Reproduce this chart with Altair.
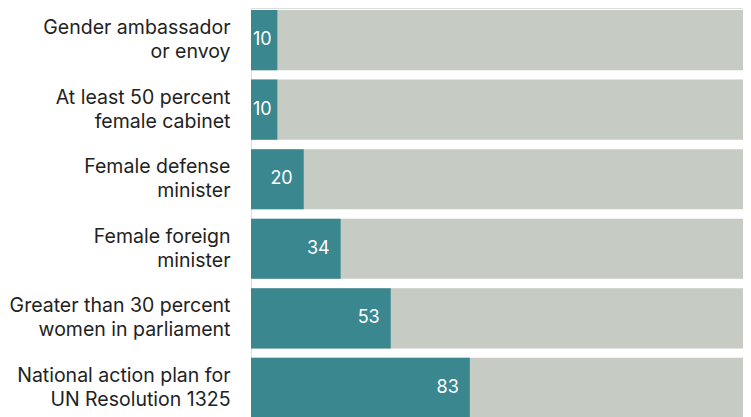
import altair as alt
import pandas as pd

categories = [
    "Gender ambassador|or envoy",
    "At least 50 percent|female cabinet",
    "Female defense|minister",
    "Female foreign|minister",
    "Greater than 30 percent|women in parliament",
    "National action plan for|UN Resolution 1325",
]
values = [10, 10, 20, 34, 53, 83]
total = 193

df = pd.DataFrame({"cat": categories, "v": values, "total": [total] * len(values)})

FONT = "Inter"
TEAL = "#3a878f"
GRAY = "#c6cbc4"

y = alt.Y(
    "cat:N",
    sort=categories,
    title=None,
    scale=alt.Scale(paddingInner=0.135, paddingOuter=0.03),
    axis=alt.Axis(
        labelExpr="split(datum.label, '|')",
        labelFontSize=19.5,
        labelFont=FONT,
        labelColor="#222222",
        labelLineHeight=24,
        labelPadding=21,
        labelLimit=300,
        labelOffset=-12,
        ticks=False,
        domain=False,
        grid=False,
    ),
)
x_scale = alt.Scale(domain=[0, 186.6], nice=False, zero=True)

bg = alt.Chart(df).mark_bar(color=GRAY, clip=True).encode(
    x=alt.X("total:Q", scale=x_scale, axis=None), y=y
)
fg = alt.Chart(df).mark_bar(color=TEAL).encode(
    x=alt.X("v:Q", scale=x_scale, axis=None), y=y
)
lab_big = alt.Chart(df).transform_filter("datum.v >= 15").mark_text(
    align="right", dx=-11, color="white", fontSize=18, font=FONT, baseline="middle"
).encode(x=alt.X("v:Q", scale=x_scale), y=y, text="v:Q")
lab_small = alt.Chart(df).transform_filter("datum.v < 15").mark_text(
    align="left", dx=2, color="white", fontSize=18, font=FONT, baseline="middle"
).encode(x=alt.value(0), y=y, text="v:Q")

chart = (
    alt.layer(bg, fg, lab_big, lab_small)
    .properties(width=492, height=412, autosize=alt.AutoSizeParams(type="none"),
                padding={"left": 243, "top": 0, "right": 0, "bottom": 4})
    .configure_view(stroke=None)
    .configure(background="white")
)
chart.save("out.html", embed_options={"renderer": "svg", "actions": False})
